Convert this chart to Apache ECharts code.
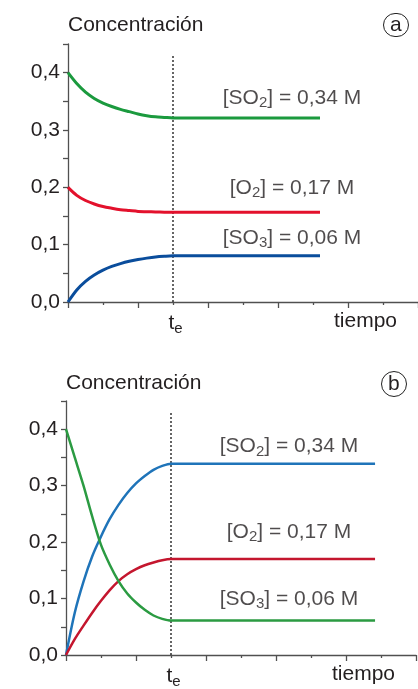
<!DOCTYPE html>
<html>
<head>
<meta charset="utf-8">
<script src="https://cdn.jsdelivr.net/npm/echarts@6/dist/echarts.min.js"></script>
<style>
  html, body { margin: 0; padding: 0; background: #fff; }
  #chart { width: 418px; height: 689px; }
</style>
</head>
<body>
<div id="chart"></div>
<script>
// chart (a): time points and concentrations
const tA = [0, 0.25, 0.5, 0.75, 1, 1.25, 1.5, 1.75, 2, 2.25, 2.5, 2.75, 3, 3.5, 7.2];
const so2A = [0.400, 0.381, 0.366, 0.355, 0.347, 0.341, 0.336, 0.332, 0.328, 0.325, 0.323, 0.322, 0.321, 0.321, 0.321];
const o2A = [0.200, 0.186, 0.177, 0.171, 0.1665, 0.1635, 0.161, 0.1595, 0.158, 0.1575, 0.157, 0.1567, 0.1565, 0.1565, 0.1565];
const so3A = [0, 0.021, 0.036, 0.047, 0.0555, 0.062, 0.067, 0.071, 0.074, 0.0765, 0.0785, 0.0797, 0.0805, 0.0805, 0.0805];

// chart (b)
const tB = [0, 0.25, 0.5, 0.75, 1, 1.25, 1.5, 1.75, 2, 2.25, 2.5, 2.75, 3, 3.5, 8.83];
const so2B = [0, 0.075, 0.130, 0.175, 0.210, 0.241, 0.266, 0.287, 0.304, 0.317, 0.328, 0.335, 0.339, 0.339, 0.339];
const o2B = [0, 0.028, 0.052, 0.075, 0.096, 0.115, 0.131, 0.143, 0.152, 0.159, 0.164, 0.168, 0.170, 0.170, 0.170];
const so3B = [0.400, 0.350, 0.300, 0.245, 0.195, 0.160, 0.131, 0.109, 0.093, 0.080, 0.070, 0.064, 0.061, 0.061, 0.061];

const tEq = 3;
const labelTexts = ['[SO{s|2}] = 0,34 M', '[O{s|2}] = 0,17 M', '[SO{s|3}] = 0,06 M'];
const labelXA = [6.4, 6.4, 6.4];
const labelYA = [0.356, 0.199, 0.1117];
const labelXB = [6.37, 6.37, 6.37];
const labelYB = [0.3694, 0.2175, 0.0987];
const xLabelValues = [3, 8.5];

const FONT = '"Liberation Sans", Arial, Helvetica, sans-serif';
const TXT = '#231f20';
const AX = '#505050';

const zip = (xs, ys) => xs.map((x, i) => [x, ys[i]]);

function xAxisFor(grid) {
    return {
        type: 'value', gridIndex: grid, min: 0, max: 10, interval: 2,
        axisLine: { show: true, onZero: false, lineStyle: { color: AX, width: 1.3 } },
        axisTick: { show: true, length: 6, lineStyle: { color: AX, width: 1.3 } },
        minorTick: { show: true, splitNumber: 2, length: 3, lineStyle: { color: AX, width: 1.3 } },
        splitLine: { show: false },
        axisLabel: {
            customValues: xLabelValues,
            margin: 9,
            color: TXT, fontFamily: FONT, fontSize: 21,
            formatter: (v) => (v === tEq ? '{t|t}{e|e}' : 'tiempo'),
            rich: {
                t: { fontSize: 21, fontFamily: FONT, color: TXT, padding: [0, 0, 0, 5] },
                e: { fontSize: 15, fontFamily: FONT, color: TXT, padding: [10, 0, 0, 0] }
            }
        }
    };
}

function yAxisFor(grid, gap) {
    return {
        type: 'value', gridIndex: grid, min: 0, max: 0.45, interval: 0.05,
        name: 'Concentración', nameLocation: 'end', nameGap: gap,
        nameTextStyle: { align: 'left', verticalAlign: 'middle', color: TXT, fontFamily: FONT, fontSize: 21 },
        axisLine: { show: true, lineStyle: { color: AX, width: 1.3 } },
        axisTick: { show: true, length: 5, lineStyle: { color: AX, width: 1.3 } },
        splitLine: { show: false },
        axisLabel: {
            margin: 8, color: TXT, fontFamily: FONT, fontSize: 21,
            formatter: (v) => (Math.round(v * 100) % 10 === 0 ? v.toFixed(1).replace('.', ',') : '')
        }
    };
}

function curve(grid, xs, ys, color, width) {
    return {
        type: 'line', xAxisIndex: grid, yAxisIndex: grid, data: zip(xs, ys),
        showSymbol: false, smooth: 0.3, silent: true,
        lineStyle: { color: color, width: width }, itemStyle: { color: color }
    };
}

function eqLine(grid) {
    return {
        type: 'line', xAxisIndex: grid, yAxisIndex: grid, data: [[tEq, 0], [tEq, 0.43]],
        showSymbol: false, silent: true, z: 1,
        lineStyle: { color: '#000', width: 1.2, type: [2, 2] }
    };
}

function labels(grid, xs, ys) {
    return {
        type: 'scatter', xAxisIndex: grid, yAxisIndex: grid, symbolSize: 1, silent: true,
        itemStyle: { color: 'rgba(0,0,0,0)' },
        data: labelTexts.map((t, i) => ({ name: t, value: [xs[i], ys[i]] })),
        label: {
            show: true, position: 'inside', color: TXT, fontFamily: FONT, fontSize: 21,
            formatter: (p) => p.name,
            rich: { s: { fontSize: 15, fontFamily: FONT, color: TXT, padding: [10, 0, 0, 0] } }
        }
    };
}

const chart = echarts.init(document.getElementById('chart'), null, { renderer: 'canvas' });

chart.setOption({
    backgroundColor: '#fff',
    animation: false,
    title: [
        { text: 'a', left: 383, top: 13, padding: [1, 7, 1, 7], borderWidth: 1, borderColor: '#222', borderRadius: 13,
          textStyle: { fontSize: 21, fontWeight: 'normal', fontFamily: FONT, color: TXT, lineHeight: 22 } },
        { text: 'b', left: 381, top: 371, padding: [2, 7, 2, 7], borderWidth: 1, borderColor: '#222', borderRadius: 14,
          textStyle: { fontSize: 21, fontWeight: 'normal', fontFamily: FONT, color: TXT, lineHeight: 22 } }
    ],
    grid: [
        { left: 68, top: 44, width: 350, height: 258 },
        { left: 66, top: 401, width: 350, height: 257.5 }
    ],
    xAxis: [xAxisFor(0), xAxisFor(1)],
    yAxis: [yAxisFor(0, 19), yAxisFor(1, 18)],
    series: [
        eqLine(0),
        curve(0, tA, so2A, '#1b9a3e', 3),
        curve(0, tA, o2A, '#e3112c', 3),
        curve(0, tA, so3A, '#0a4d9c', 3),
        labels(0, labelXA, labelYA),
        eqLine(1),
        curve(1, tB, so2B, '#1f74b9', 2.5),
        curve(1, tB, o2B, '#c4162e', 2.5),
        curve(1, tB, so3B, '#2b9b42', 2.5),
        labels(1, labelXB, labelYB)
    ]
});
</script>
</body>
</html>
